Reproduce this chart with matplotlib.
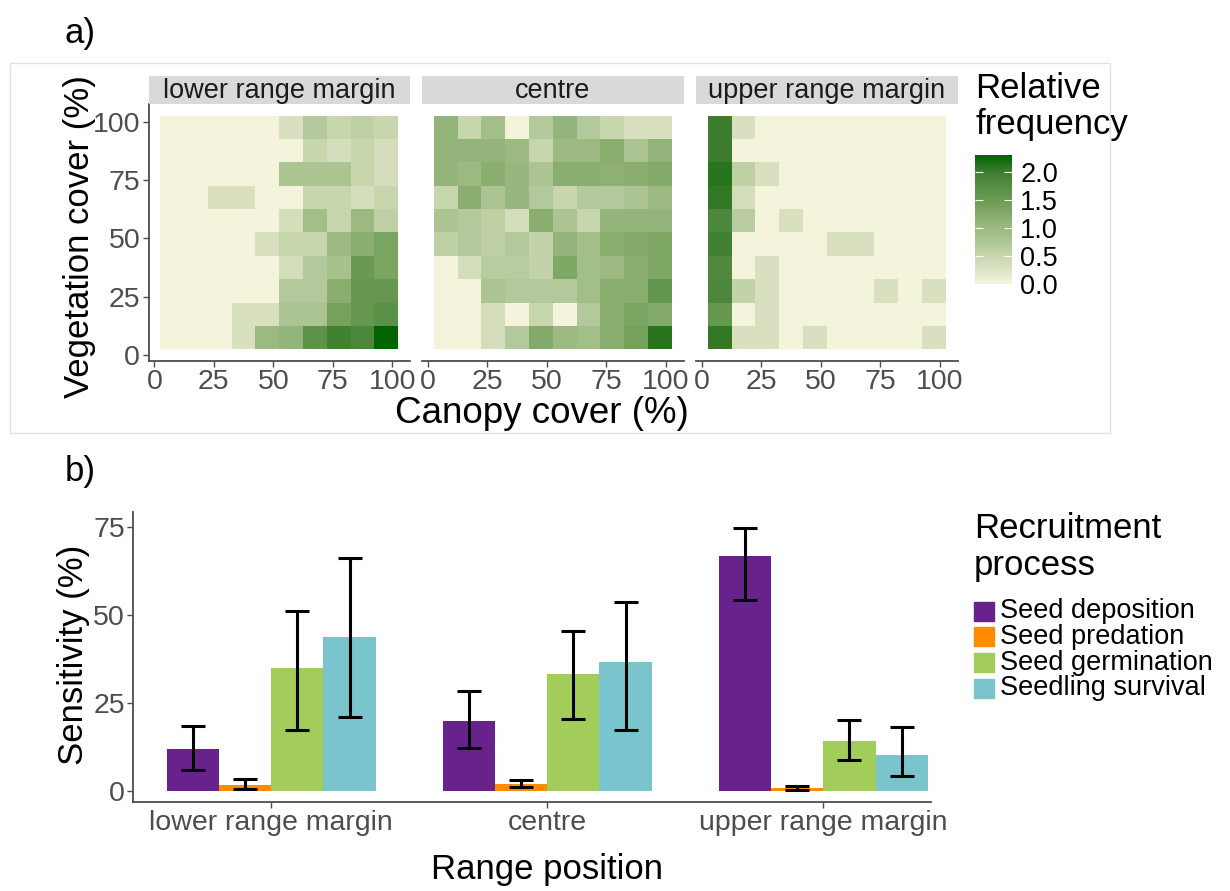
import numpy as np
import matplotlib
matplotlib.use('Agg')
import matplotlib.pyplot as plt
from matplotlib.colors import LinearSegmentedColormap
from matplotlib.patches import Rectangle

plt.rcParams['font.family'] = ['Liberation Sans', 'DejaVu Sans']

# ---- data: panel a (relative frequency, rows read top -> bottom) ----
cover_mid = [7.5, 17.5, 27.5, 37.5, 47.5, 57.5, 67.5, 77.5, 87.5, 97.5]
facets = ['lower range margin', 'centre', 'upper range margin']

freq_lower = [
    [0, 0, 0, 0, 0, 0.3, 0.7, 0.5, 0.6, 0.5],
    [0, 0, 0, 0, 0, 0, 0.5, 0.35, 0.5, 0.35],
    [0, 0, 0, 0, 0, 0.8, 0.8, 0.8, 0.5, 0.35],
    [0, 0, 0.3, 0.3, 0, 0, 0.5, 0.5, 0.35, 0.5],
    [0, 0, 0, 0, 0, 0.35, 0.9, 0.5, 1.0, 0.6],
    [0, 0, 0, 0, 0.3, 0.5, 0.5, 1.0, 1.2, 1.35],
    [0, 0, 0, 0, 0, 0.35, 0.7, 0.85, 1.5, 1.35],
    [0, 0, 0, 0, 0, 0.7, 0.7, 1.2, 1.55, 1.55],
    [0, 0, 0, 0.3, 0.3, 0.8, 0.8, 1.4, 1.55, 1.7],
    [0, 0, 0, 0.3, 1.0, 1.1, 1.65, 1.95, 1.85, 2.3],
]
freq_centre = [
    [1.1, 0.5, 0.9, 0, 0.7, 1.1, 0.7, 0.5, 0.3, 0.3],
    [1.1, 1.1, 1.1, 1.0, 0.5, 1.0, 1.0, 1.2, 0.8, 1.1],
    [1.1, 1.0, 1.2, 1.05, 0.8, 1.2, 1.2, 1.15, 1.2, 1.25],
    [0.5, 1.2, 0.8, 1.05, 0.7, 0.5, 0.7, 0.7, 0.8, 1.0],
    [0.8, 0.7, 0.6, 0.35, 1.2, 0.8, 0.5, 1.1, 1.1, 1.1],
    [0.6, 0.7, 0.6, 0.7, 0.55, 1.1, 0.9, 1.2, 1.25, 1.3],
    [0, 0.35, 0.65, 0.65, 0.55, 1.3, 0.9, 1.0, 1.2, 1.3],
    [0, 0, 0.8, 0.7, 0.7, 0.7, 0.9, 1.2, 1.2, 1.6],
    [0, 0, 0.35, 0, 0.5, 0, 0.7, 1.2, 1.35, 1.25],
    [0, 0, 0.35, 0.7, 1.25, 1.0, 0.9, 1.2, 1.4, 2.1],
]
freq_upper = [
    [2.0, 0.3, 0, 0, 0, 0, 0, 0, 0, 0],
    [2.0, 0, 0, 0, 0, 0, 0, 0, 0, 0],
    [2.1, 0.6, 0.3, 0, 0, 0, 0, 0, 0, 0],
    [2.05, 0.35, 0, 0, 0, 0, 0, 0, 0, 0],
    [1.85, 0.65, 0, 0.3, 0, 0, 0, 0, 0, 0],
    [1.95, 0, 0, 0, 0, 0.3, 0.3, 0, 0, 0],
    [1.8, 0, 0.3, 0, 0, 0, 0, 0, 0, 0],
    [1.85, 0.55, 0.3, 0, 0, 0, 0, 0.3, 0, 0.3],
    [1.55, 0, 0.3, 0, 0, 0, 0, 0, 0, 0],
    [2.05, 0.3, 0.3, 0, 0.3, 0, 0, 0, 0, 0.3],
]

# ---- data: panel b (sensitivity %) ----
positions = ['lower range margin', 'centre', 'upper range margin']
processes = ['Seed deposition', 'Seed predation', 'Seed germination', 'Seedling survival']
proc_colors = ['#68228B', '#FF8C00', '#A2CD5A', '#7AC5CD']
sens = [
    [12.0, 1.8, 35.0, 43.7],
    [20.1, 2.1, 33.4, 36.6],
    [66.8, 1.0, 14.3, 10.4],
]
sens_lo = [
    [6.1, 0.8, 17.5, 21.2],
    [12.4, 1.2, 20.5, 17.4],
    [54.3, 0.4, 9.0, 4.5],
]
sens_hi = [
    [18.6, 3.4, 51.2, 66.1],
    [28.6, 3.3, 45.5, 53.8],
    [74.6, 1.6, 20.3, 18.4],
]

W, H = 1230, 891
fig = plt.figure(figsize=(W / 100, H / 100), dpi=100)

def fx(px):
    return px / W

def fy(py):
    return 1 - py / H

tick_col = '#4D4D4D'
line_col = '#4D4D4D'

# frame around panel a
fig.patches.append(Rectangle((fx(10), fy(433)), fx(1100), (433 - 63) / H,
                             transform=fig.transFigure, fill=False,
                             edgecolor='#E3E3E3', lw=1))

cmap = LinearSegmentedColormap.from_list('relfreq', [
    (0.0, '#F4F4DC'), (0.3 / 2.3, '#D9E0C0'), (0.5 / 2.3, '#C8D6AE'),
    (0.7 / 2.3, '#B3C99A'), (0.9 / 2.3, '#A3BF88'), (1.1 / 2.3, '#93B47A'),
    (1.3 / 2.3, '#7FA766'), (1.5 / 2.3, '#6A9A52'), (1.7 / 2.3, '#5A9048'),
    (2.0 / 2.3, '#3E7D2E'), (1.0, '#006400')])
vmax = 2.3

edges = [m - 5 for m in cover_mid] + [cover_mid[-1] + 5]
panel_left = [148.5, 422, 696]
pw = 261.5
mesh = None
for i, (name, data) in enumerate(zip(facets, [freq_lower, freq_centre, freq_upper])):
    ax = fig.add_axes([fx(panel_left[i]), fy(361), fx(pw), (361 - 104) / H])
    mesh = ax.pcolormesh(edges, edges, np.flipud(np.array(data)), cmap=cmap,
                         vmin=0, vmax=vmax, shading='flat')
    ax.set_xlim(-2.5, 107.5)
    ax.set_ylim(-2.5, 107.5)
    ax.set_xticks([0, 25, 50, 75, 100])
    ax.set_yticks([0, 25, 50, 75, 100])
    for s in ['top', 'right']:
        ax.spines[s].set_visible(False)
    ax.spines['bottom'].set_color(line_col)
    ax.spines['bottom'].set_linewidth(1.3)
    ax.tick_params(axis='both', labelsize=20.5, labelcolor=tick_col,
                   color=line_col, length=4, width=1, pad=2)
    if i == 0:
        ax.spines['left'].set_color(line_col)
        ax.spines['left'].set_linewidth(1.3)
    else:
        ax.spines['left'].set_visible(False)
        ax.tick_params(axis='y', left=False, labelleft=False)
    # facet strip
    sx = fig.add_axes([fx(panel_left[i]), fy(104), fx(pw), (104 - 76) / H])
    sx.set_facecolor('#D9D9D9')
    sx.set_xticks([])
    sx.set_yticks([])
    for s in sx.spines.values():
        s.set_visible(False)
    sx.text(0.5, 0.45, name, ha='center', va='center', fontsize=19.5,
            color='#1A1A1A', transform=sx.transAxes)

fig.text(fx(80), fy(237), 'Vegetation cover (%)', rotation=90, ha='center',
         va='center', fontsize=25)
fig.text(fx(542), fy(423), 'Canopy cover (%)', ha='center', va='baseline', fontsize=26.5)
fig.text(fx(80), fy(34), 'a)', ha='center', va='center', fontsize=25)

# colour bar
cax = fig.add_axes([fx(975), fy(284), fx(37), (284 - 155) / H])
cb = fig.colorbar(mesh, cax=cax, ticks=[0, 0.5, 1.0, 1.5, 2.0])
cb.outline.set_visible(False)
cb.ax.set_yticklabels(['0.0', '0.5', '1.0', '1.5', '2.0'])
cb.ax.tick_params(labelsize=19.5, labelcolor='black', color='white',
                  direction='in', length=6, width=0.8, left=True, right=True, pad=6)
fig.text(fx(975), fy(72), 'Relative\nfrequency', ha='left', va='top',
         fontsize=25, linespacing=1.1)

# ---- panel b ----
axb = fig.add_axes([fx(133.3), fy(802), fx(931 - 133.3), (802 - 512) / H])
bw = 0.189
xpos = np.arange(1, len(positions) + 1)
sens_a = np.array(sens)
lo_a = np.array(sens_lo)
hi_a = np.array(sens_hi)
for j, proc in enumerate(processes):
    xs = xpos + (j - 1.5) * bw
    axb.bar(xs, sens_a[:, j], width=bw, color=proc_colors[j], label=proc)
    axb.errorbar(xs, sens_a[:, j],
                 yerr=[sens_a[:, j] - lo_a[:, j], hi_a[:, j] - sens_a[:, j]],
                 fmt='none', ecolor='black', elinewidth=2.2, capsize=8.5,
                 capthick=2.2)
axb.set_xlim(0.5, 3.39)
axb.set_ylim(-3.0, 79.2)
axb.set_xticks(xpos)
axb.set_xticklabels(positions)
axb.set_yticks([0, 25, 50, 75])
for s in ['top', 'right']:
    axb.spines[s].set_visible(False)
for s in ['left', 'bottom']:
    axb.spines[s].set_color(line_col)
    axb.spines[s].set_linewidth(1.3)
axb.tick_params(axis='both', labelsize=20.5, labelcolor=tick_col,
                color=line_col, length=4, width=1, pad=2)

fig.text(fx(74), fy(655), 'Sensitivity (%)', rotation=90, ha='center',
         va='center', fontsize=25)
fig.text(fx(547), fy(870), 'Range position', ha='center', va='center', fontsize=25)
fig.text(fx(80), fy(472), 'b)', ha='center', va='center', fontsize=25)

# legend b
fig.text(fx(974), fy(512), 'Recruitment\nprocess', ha='left', va='top',
         fontsize=25, linespacing=1.15)
key_y = [611, 636.5, 662.5, 688]
for j, proc in enumerate(processes):
    fig.patches.append(Rectangle((fx(974), fy(key_y[j] + 9.5)), fx(20), 19 / H,
                                 transform=fig.transFigure, color=proc_colors[j]))
    fig.text(fx(1000), fy(key_y[j]), proc, ha='left', va='center', fontsize=19.5)

fig.savefig('out.png', dpi=100)
